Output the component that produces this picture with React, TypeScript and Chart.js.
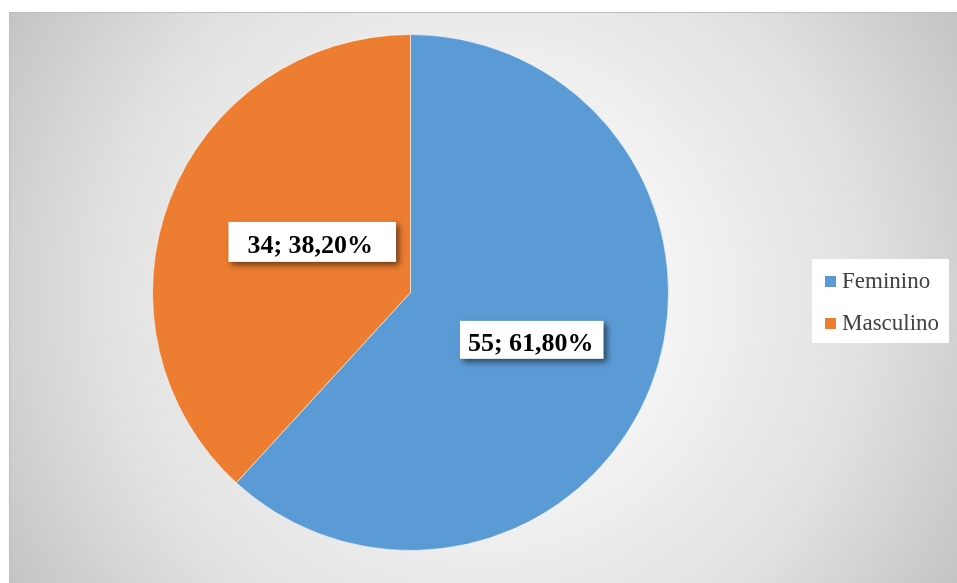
import React, { useEffect, useRef } from "react";
import { Chart, registerables } from "chart.js";

Chart.register(...registerables);

const categories = ["Feminino", "Masculino"];
const counts = [55, 34];
const percentLabels = ["61,80%", "38,20%"];
const colors = ["#5B9BD5", "#ED7D31"];

const SERIF = '"Liberation Serif", "Times New Roman", serif';

const labelPlugin = {
  id: "sliceLabels",
  afterDatasetsDraw(chart: any) {
    const ctx = chart.ctx;
    const meta = chart.getDatasetMeta(0);
    const textOffset = [
      [0, 3],
      [20, -1.5],
    ];
    const padX = [
      [8, 10],
      [19, 23],
    ];
    const boxH = [38, 40];
    ctx.save();
    ctx.font = `bold 26px ${SERIF}`;
    meta.data.forEach((arc: any, i: number) => {
      const c = arc.getCenterPoint();
      const text = `${counts[i]}; ${percentLabels[i]}`;
      const tx = c.x + textOffset[i][0];
      const ty = c.y + textOffset[i][1];
      const w = ctx.measureText(text).width;
      const left = tx - w / 2 - padX[i][0];
      const right = tx + w / 2 + padX[i][1];
      const cy = ty - 2.4;
      const top = cy - boxH[i] / 2;
      ctx.save();
      ctx.shadowColor = "rgba(0,0,0,0.55)";
      ctx.shadowBlur = 6;
      ctx.shadowOffsetX = 3;
      ctx.shadowOffsetY = 3;
      ctx.fillStyle = "#ffffff";
      ctx.fillRect(left, top, right - left, boxH[i]);
      ctx.restore();
      ctx.fillStyle = "#000000";
      ctx.textAlign = "center";
      ctx.textBaseline = "alphabetic";
      ctx.fillText(text, tx, ty + 8.6);
    });
    ctx.restore();
  },
};

const legendPlugin = {
  id: "boxLegend",
  afterDraw(chart: any) {
    const ctx = chart.ctx;
    ctx.save();
    ctx.fillStyle = "#ffffff";
    ctx.fillRect(812, 259, 137, 84);
    ctx.font = `23px ${SERIF}`;
    ctx.textBaseline = "alphabetic";
    ctx.textAlign = "left";
    categories.forEach((name, i) => {
      const baseY = 288 + i * 42;
      ctx.fillStyle = colors[i];
      ctx.fillRect(825, baseY - 12, 11, 11);
      ctx.fillStyle = "#404040";
      ctx.fillText(name, 842, baseY);
    });
    ctx.restore();
  },
};

export default function App() {
  const canvasRef = useRef<HTMLCanvasElement | null>(null);

  useEffect(() => {
    if (!canvasRef.current) return;
    const chart = new Chart(canvasRef.current, {
      type: "pie",
      data: {
        labels: categories,
        datasets: [
          {
            data: counts,
            backgroundColor: colors,
            borderColor: "rgba(255,255,255,0.55)",
            borderWidth: 1,
          },
        ],
      },
      options: {
        responsive: false,
        animation: false,
        layout: { padding: { left: 152, top: 34, right: 288, bottom: 32 } },
        plugins: {
          legend: { display: false },
          tooltip: { enabled: false },
        },
      },
      plugins: [labelPlugin, legendPlugin],
    });
    return () => chart.destroy();
  }, []);

  return (
    <div
      style={{
        position: "fixed",
        left: 0,
        top: 0,
        width: 957,
        height: 583,
        background: "#ffffff",
        overflow: "hidden",
      }}
    >
      <div
        style={{
          position: "absolute",
          left: 9,
          top: 12,
          width: 948,
          height: 571,
          boxSizing: "border-box",
          borderLeft: "1px solid #bdbdbd",
          borderTop: "1px solid #bdbdbd",
          background:
            "radial-gradient(circle farthest-corner at 50% 50%, #ffffff 0%, #f3f3f3 35%, #e0e0e0 70%, #c4c4c4 100%)",
        }}
      />
      <canvas
        ref={canvasRef}
        width={957}
        height={583}
        style={{ position: "absolute", left: 0, top: 0, width: 957, height: 583 }}
      />
    </div>
  );
}
